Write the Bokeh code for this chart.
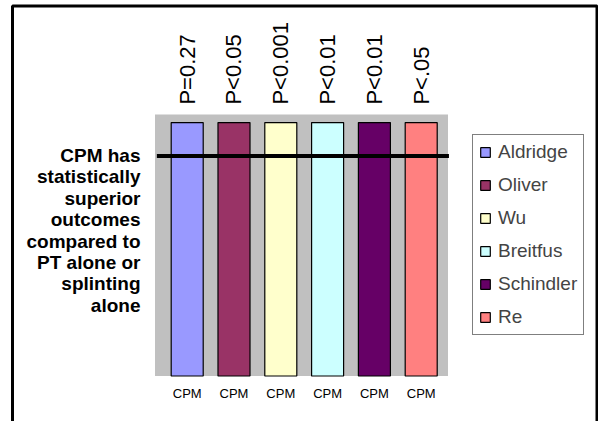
import math
from bokeh.plotting import figure
from bokeh.models import Range1d, Label, Legend, LegendItem, BoxAnnotation
from bokeh.core.properties import value
from bokeh.embed import file_html
from bokeh.resources import INLINE

# ---- data ----
series = ["Aldridge", "Oliver", "Wu", "Breitfus", "Schindler", "Re"]
values = [100, 100, 100, 100, 100, 100]
p_values = ["P=0.27", "P<0.05", "P<0.001", "P<0.01", "P<0.01", "P<.05"]
category = "CPM"
colors = ["#9999FF", "#993366", "#FFFFCC", "#CCFFFF", "#660066", "#FF8080"]
reference_level = 86.8
note = "CPM has\nstatistically\nsuperior\noutcomes\ncompared to\nPT alone or\nsplinting\nalone"

positions = list(range(1, len(series) + 1))

# plot-area extent (data units)
X0, X1 = 0.312, 6.573
Y0, Y1 = 0.0, 103.2

W, H = 598, 421
PX = 46.8      # px per x unit
PY = 2.534     # px per y unit
FL, FB = 154.5, 375.5   # plot-area left / bottom in figure pixels
x_start = X0 - FL / PX
x_end = x_start + W / PX
y_end = Y0 + FB / PY
y_start = y_end - H / PY

p = figure(width=W, height=H, output_backend="svg", toolbar_location=None,
           x_range=Range1d(x_start, x_end), y_range=Range1d(y_start, y_end),
           min_border=0, background_fill_color="white",
           border_fill_color="white", outline_line_color=None)
p.xaxis.visible = False
p.yaxis.visible = False
p.xgrid.visible = False
p.ygrid.visible = False

# outer border (left, top, right; open at the bottom)
bl = x_start + 12 / PX
br = x_start + 596.5 / PX
bt = y_end - 5.5 / PY
bb = y_start - 20
p.multi_line(xs=[[bl, bl, br, br]], ys=[[bb, bt, bt, bb]],
             line_color="black", line_width=3)

# grey plot area
p.add_layout(BoxAnnotation(left=X0, right=X1, bottom=Y0, top=Y1,
                           fill_color="#C0C0C0", fill_alpha=1, line_color=None,
                           level="underlay"))

renderers = []
for i, s in enumerate(series):
    r = p.vbar(x=[positions[i]], top=[values[i]], width=0.684, bottom=0,
               fill_color=colors[i], line_color="#000000", line_width=1.2)
    renderers.append(r)

# reference line across the plot area
p.segment(x0=[X0 + 0.04], x1=[X1 + 0.02], y0=[reference_level], y1=[reference_level],
          line_color="black", line_width=4)

# p values above bars (vertical)
p.text(x=positions, y=[Y1 + 3.9] * len(positions), text=p_values, angle=math.pi / 2,
       text_align="left", text_baseline="middle", text_font=value("Liberation Sans"),
       text_font_size="22px", text_color="black")

# category labels below bars
p.text(x=positions, y=[Y0 - 6.9] * len(positions), text=[category] * len(positions),
       text_align="center", text_baseline="middle", text_font=value("Liberation Sans"),
       text_font_size="13px", text_color="black")

# left note
p.add_layout(Label(x=X0 - 14.5 / PX, y=91.2, text=note, text_align="right",
                   text_baseline="top", text_font="Liberation Sans",
                   text_font_style="bold", text_font_size="19px",
                   text_line_height=1.02, text_color="black"))

# legend
legend = Legend(items=[LegendItem(label=s, renderers=[r]) for s, r in zip(series, renderers)],
                location=(472, 86), border_line_color="black", border_line_width=1.5,
                padding=6, spacing=11, label_text_font="Liberation Sans",
                label_text_font_size="19px", label_standoff=7, glyph_width=12,
                glyph_height=12, label_height=20, background_fill_color="white",
                background_fill_alpha=1)
p.add_layout(legend, "center")

open("out.html", "w").write(file_html(p, INLINE))
